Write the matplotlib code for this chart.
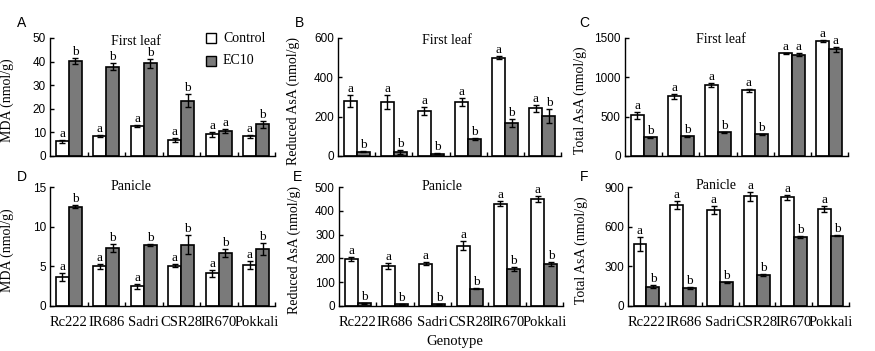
import matplotlib
matplotlib.use("Agg")
import matplotlib.pyplot as plt
from matplotlib.patches import Rectangle
import numpy as np

genotypes = ["Rc222", "IR686", "Sadri", "CSR28", "IR670", "Pokkali"]

# Panel A: MDA, first leaf
mda_leaf_ctrl = [6.2, 8.6, 12.6, 6.8, 9.2, 8.3]
mda_leaf_ctrl_err = [0.5, 0.4, 0.4, 0.8, 1.0, 0.8]
mda_leaf_ec = [40.4, 37.8, 39.2, 23.4, 10.6, 13.4]
mda_leaf_ec_err = [1.3, 1.5, 1.7, 2.8, 0.7, 1.6]
mda_leaf_let_c = ["a", "a", "a", "a", "a", "a"]
mda_leaf_let_e = ["b", "b", "b", "b", "a", "b"]

# Panel B: Reduced AsA, first leaf
rasa_leaf_ctrl = [279, 276, 230, 276, 500, 242]
rasa_leaf_ctrl_err = [32, 35, 20, 20, 6, 17]
rasa_leaf_ec = [22, 22, 12, 85, 167, 205]
rasa_leaf_ec_err = [3, 10, 3, 5, 20, 35]
rasa_leaf_let_c = ["a", "a", "a", "a", "a", "a"]
rasa_leaf_let_e = ["b", "b", "b", "b", "b", "b"]

# Panel C: Total AsA, first leaf
tasa_leaf_ctrl = [515, 758, 900, 838, 1305, 1465]
tasa_leaf_ctrl_err = [40, 35, 25, 20, 8, 12]
tasa_leaf_ec = [238, 250, 300, 278, 1285, 1355]
tasa_leaf_ec_err = [3, 5, 3, 5, 20, 35]
tasa_leaf_let_c = ["a", "a", "a", "a", "a", "a"]
tasa_leaf_let_e = ["b", "b", "b", "b", "a", "a"]

# Panel D: MDA, panicle
mda_pan_ctrl = [3.6, 5.0, 2.5, 5.1, 4.1, 5.2]
mda_pan_ctrl_err = [0.5, 0.3, 0.3, 0.2, 0.5, 0.5]
mda_pan_ec = [12.5, 7.3, 7.7, 7.7, 6.7, 7.2]
mda_pan_ec_err = [0.2, 0.5, 0.15, 1.2, 0.5, 0.8]
mda_pan_let_c = ["a", "a", "a", "a", "a", "a"]
mda_pan_let_e = ["b", "b", "b", "b", "b", "b"]

# Panel E: Reduced AsA, panicle
rasa_pan_ctrl = [198, 167, 178, 254, 430, 451]
rasa_pan_ctrl_err = [8, 12, 6, 20, 10, 12]
rasa_pan_ec = [11, 7, 7, 72, 156, 178]
rasa_pan_ec_err = [3, 1, 1, 2, 8, 8]
rasa_pan_let_c = ["a", "a", "a", "a", "a", "a"]
rasa_pan_let_e = ["b", "b", "b", "b", "b", "b"]

# Panel F: Total AsA, panicle
tasa_pan_ctrl = [468, 761, 728, 829, 822, 735]
tasa_pan_ctrl_err = [55, 30, 30, 35, 20, 25]
tasa_pan_ec = [147, 137, 178, 233, 524, 532]
tasa_pan_ec_err = [10, 10, 5, 8, 8, 5]
tasa_pan_let_c = ["a", "a", "a", "a", "a", "a"]
tasa_pan_let_e = ["b", "b", "b", "b", "b", "b"]

SERIF = "Liberation Serif"
SANS = "Liberation Sans"
GRAY = "#7a7a7a"

W, H = 875, 351
fig = plt.figure(figsize=(W / 100, H / 100), dpi=100)


def px_axes(left, right, top, bottom):
    return [left / W, 1 - bottom / H, (right - left) / W, (bottom - top) / H]


panels = [
    dict(pos=(50, 275, 38, 156), label="A", lab_xy=(22, 23), ylabel="MDA (nmol/g)", ylab_x=14,
         yt=[0, 10, 20, 30, 40, 50], c=mda_leaf_ctrl, ce=mda_leaf_ctrl_err, e=mda_leaf_ec,
         ee=mda_leaf_ec_err, lc=mda_leaf_let_c, le=mda_leaf_let_e, title="First leaf", tx=0.38, ty=0.97, xt=False),
    dict(pos=(338, 561, 38, 156), label="B", lab_xy=(300, 23), ylabel="Reduced AsA (nmol/g)", ylab_x=300,
         yt=[0, 200, 400, 600], c=rasa_leaf_ctrl, ce=rasa_leaf_ctrl_err, e=rasa_leaf_ec,
         ee=rasa_leaf_ec_err, lc=rasa_leaf_let_c, le=rasa_leaf_let_e, title="First leaf", tx=0.49, ty=0.975, xt=False),
    dict(pos=(625, 848, 38, 156), label="C", lab_xy=(584, 23), ylabel="Total AsA (nmol/g)", ylab_x=587,
         yt=[0, 500, 1000, 1500], c=tasa_leaf_ctrl, ce=tasa_leaf_ctrl_err, e=tasa_leaf_ec,
         ee=tasa_leaf_ec_err, lc=tasa_leaf_let_c, le=tasa_leaf_let_e, title="First leaf", tx=0.43, ty=0.985, xt=False),
    dict(pos=(50, 275, 187, 306), label="D", lab_xy=(22, 177), ylabel="MDA (nmol/g)", ylab_x=14,
         yt=[0, 5, 10, 15], c=mda_pan_ctrl, ce=mda_pan_ctrl_err, e=mda_pan_ec,
         ee=mda_pan_ec_err, lc=mda_pan_let_c, le=mda_pan_let_e, title="Panicle", tx=0.36, ty=1.0, xt=True),
    dict(pos=(339, 563, 187, 306), label="E", lab_xy=(297, 177), ylabel="Reduced AsA (nmol/g)", ylab_x=301,
         yt=[0, 100, 200, 300, 400, 500], c=rasa_pan_ctrl, ce=rasa_pan_ctrl_err, e=rasa_pan_ec,
         ee=rasa_pan_ec_err, lc=rasa_pan_let_c, le=rasa_pan_let_e, title="Panicle", tx=0.46, ty=1.005, xt=True),
    dict(pos=(628, 849, 187, 306), label="F", lab_xy=(584, 177), ylabel="Total AsA (nmol/g)", ylab_x=588,
         yt=[0, 300, 600, 900], c=tasa_pan_ctrl, ce=tasa_pan_ctrl_err, e=tasa_pan_ec,
         ee=tasa_pan_ec_err, lc=tasa_pan_let_c, le=tasa_pan_let_e, title="Panicle", tx=0.40, ty=1.01, xt=True),
]

bw = 0.35
x = np.arange(len(genotypes)) + 0.5

for p in panels:
    l, r, t, b = p["pos"]
    ax = fig.add_axes(px_axes(l, r, t, b))
    ax.bar(x - bw / 2, p["c"], bw, color="white", edgecolor="black", linewidth=1.2, zorder=2)
    ax.bar(x + bw / 2, p["e"], bw, color=GRAY, edgecolor="black", linewidth=1.2, zorder=2)
    ax.errorbar(x - bw / 2, p["c"], yerr=p["ce"], fmt="none", ecolor="black",
                elinewidth=1.0, capsize=2.2, capthick=1.0, zorder=3)
    ax.errorbar(x + bw / 2, p["e"], yerr=p["ee"], fmt="none", ecolor="black",
                elinewidth=1.0, capsize=2.2, capthick=1.0, zorder=3)
    for xi, v, er, lt in zip(x - bw / 2, p["c"], p["ce"], p["lc"]):
        ax.annotate(lt, (xi, v + er), xytext=(0, 0), textcoords="offset points",
                    ha="center", va="bottom", fontsize=9.5, family=SERIF)
    for xi, v, er, lt in zip(x + bw / 2, p["e"], p["ee"], p["le"]):
        ax.annotate(lt, (xi, v + er), xytext=(0, 0), textcoords="offset points",
                    ha="center", va="bottom", fontsize=9.5, family=SERIF)

    ax.set_xlim(0, len(genotypes))
    ax.set_ylim(0, p["yt"][-1])
    ax.set_yticks(p["yt"])
    ax.set_yticklabels([str(v) for v in p["yt"]], family=SANS, fontsize=8.5)
    ax.tick_params(axis="y", direction="in", length=3, width=1, pad=3)
    ax.set_xticks(np.arange(1, len(genotypes) + 1))
    ax.tick_params(axis="x", which="major", direction="in", length=3, width=1, labelbottom=False)
    if p["xt"]:
        ax.set_xticks(x, minor=True)
        ax.set_xticklabels(genotypes, minor=True, family=SERIF, fontsize=10.5)
        ax.tick_params(axis="x", which="minor", length=0, pad=7, labelbottom=True)
    for s in ["top", "right"]:
        ax.spines[s].set_visible(False)
    for s in ["left", "bottom"]:
        ax.spines[s].set_linewidth(1.0)

    ax.set_ylabel(p["ylabel"], family=SERIF, fontsize=10)
    ax.yaxis.set_label_coords((p["ylab_x"] - l) / (r - l), 0.47)
    ax.text(p["tx"], p["ty"], p["title"], transform=ax.transAxes, ha="center", va="center",
            family=SERIF, fontsize=10)
    fig.text(p["lab_xy"][0] / W, 1 - p["lab_xy"][1] / H, p["label"], family=SANS,
             fontsize=10, ha="center", va="center")

# Legend in panel A
for i, (lab, col) in enumerate([("Control", "white"), ("EC10", GRAY)]):
    yy = 38 + i * 23
    fig.patches.append(Rectangle((206 / W, 1 - (yy + 5) / H), 10 / W, 10 / H, transform=fig.transFigure,
                                 facecolor=col, edgecolor="black", linewidth=1.0))
    fig.text(223 / W, 1 - yy / H, lab, family=SERIF, fontsize=10, ha="left", va="center")

fig.text(455 / W, 1 - 342 / H, "Genotype", family=SERIF, fontsize=10.5, ha="center", va="center")

fig.savefig("out.png", dpi=100)
